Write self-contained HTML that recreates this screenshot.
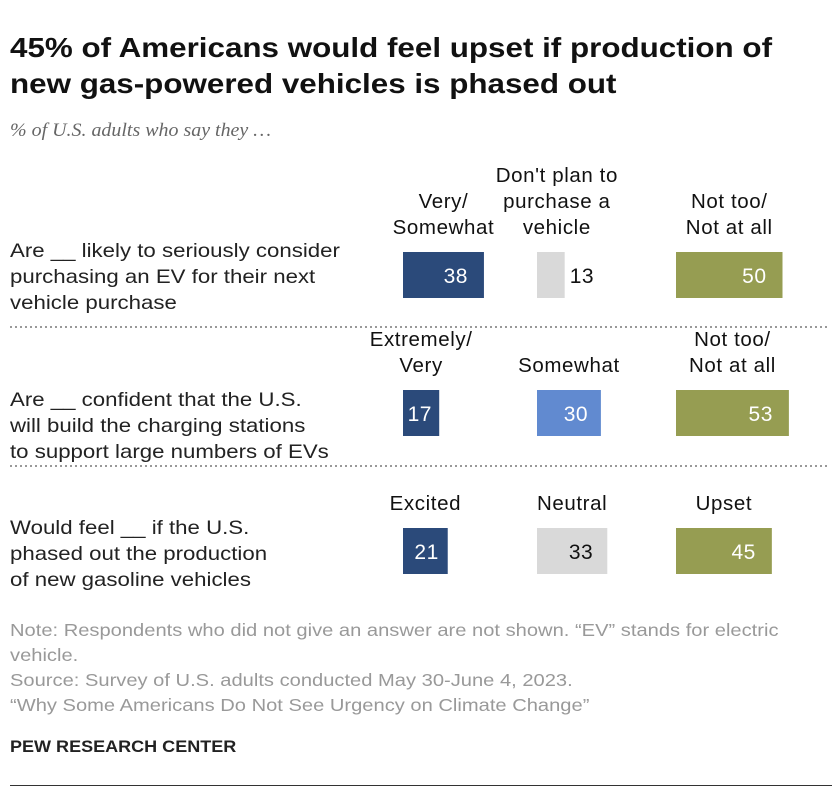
<!DOCTYPE html>
<html><head><meta charset="utf-8">
<style>
body{margin:0;background:#fff;font-family:"Liberation Sans",Arial,sans-serif;}
#wrap{position:relative;width:840px;height:796px;overflow:hidden;}
.t{position:absolute;white-space:nowrap;transform-origin:0 0;}
</style></head>
<body>
<div id="wrap">
<div class="t" style="left:10px;top:30px;font-size:28px;font-weight:bold;line-height:36px;color:#111;transform:scaleX(1.12)">45% of Americans would feel upset if production of<br>new gas-powered vehicles is phased out</div>
<div class="t" style="left:10px;top:120px;font-size:19px;font-style:italic;font-family:'Liberation Serif',serif;color:#666;transform:scaleX(1.05)">% of U.S. adults who say they …</div>
<div class="t" style="left:10px;top:238px;font-size:19.5px;line-height:26px;color:#222;transform:scaleX(1.14)">Are __ likely to seriously consider<br>purchasing an EV for their next<br>vehicle purchase</div>
<div class="t" style="left:10px;top:387px;font-size:19.5px;line-height:26px;color:#222;transform:scaleX(1.14)">Are __ confident that the U.S.<br>will build the charging stations<br>to support large numbers of EVs</div>
<div class="t" style="left:10px;top:515px;font-size:19.5px;line-height:26px;color:#222;transform:scaleX(1.14)">Would feel __ if the U.S.<br>phased out the production<br>of new gasoline vehicles</div>
<svg id="chart" width="840" height="796" style="position:absolute;left:0;top:0"></svg>
<div class="t" style="left:10px;top:618px;font-size:17.5px;line-height:25px;color:#999;transform:scaleX(1.15)">Note: Respondents who did not give an answer are not shown. “EV” stands for electric<br>vehicle.<br>Source: Survey of U.S. adults conducted May 30-June 4, 2023.<br>“Why Some Americans Do Not See Urgency on Climate Change”</div>
<div class="t" style="left:10px;top:737px;font-size:17px;font-weight:bold;color:#222;transform:scaleX(1.06)">PEW RESEARCH CENTER</div>
<div style="position:absolute;left:10px;top:785px;width:822px;height:1px;background:#333"></div>
</div>
<script>
const rowValues1 = [38, 13, 50];
const rowValues2 = [17, 30, 53];
const rowValues3 = [21, 33, 45];
const headers1 = ["Very/|Somewhat", "Don't plan to|purchase a|vehicle", "Not too/|Not at all"];
const headers2 = ["Extremely/|Very", "Somewhat", "Not too/|Not at all"];
const headers3 = ["Excited", "Neutral", "Upset"];
const rowColors = [["#2b4a7a","#d9d9d9","#969d52"],["#2b4a7a","#618ad0","#969d52"],["#2b4a7a","#d9d9d9","#969d52"]];
const NS="http://www.w3.org/2000/svg";
const svg=document.getElementById('chart');
const colX=[403,537,676];
const scale=2.13;
const x=v=>v*scale;
const barTops=[252,390,528], barH=46;
const rows=[rowValues1,rowValues2,rowValues3];
const hdrs=[headers1,headers2,headers3];
function mk(t,a){const e=document.createElementNS(NS,t);for(const k in a)e.setAttribute(k,a[k]);svg.appendChild(e);return e;}
rows.forEach((vals,r)=>{
  vals.forEach((v,i)=>{
    const w=x(v), x0=colX[i], y0=barTops[r];
    const b=mk('rect',{x:x0,y:y0,width:w,height:barH,fill:rowColors[r][i]});
    
    
    const light=rowColors[r][i]==="#d9d9d9";
    let tx, anchor='end', fill=light?'#111':'#fff', cx=x0+w/2;
    if(w<35){tx=x0+w+5;anchor='start';fill='#111';cx=x0+w/2+6;}
    else tx=x0+w-Math.min(16,w*0.2);
    const t=mk('text',{x:tx,y:y0+31,'text-anchor':anchor,'font-size':21,fill:fill,'font-family':'Liberation Sans, sans-serif','letter-spacing':0.5});
    t.textContent=v;
    
    
    const lines=hdrs[r][i].split('|');
    lines.forEach((ln,j)=>{
      const ht=mk('text',{x:cx,y:y0-18-(lines.length-1-j)*26,'text-anchor':'middle','font-size':20.5,fill:'#111','font-family':'Liberation Sans, sans-serif','letter-spacing':0.6});
      ht.textContent=ln;
      
      
    });
  });
});
[327,466].forEach((y,k)=>{
  const l=mk('line',{x1:10,x2:830,y1:y,y2:y,stroke:'#999','stroke-width':2,'stroke-dasharray':'2,3'});
  
  
});
</script>
</body></html>
